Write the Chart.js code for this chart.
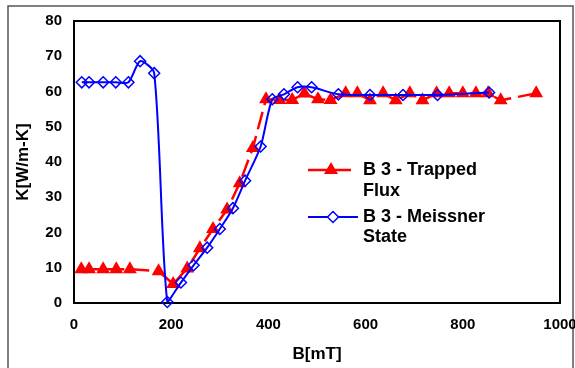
<!DOCTYPE html>
<html>
<head>
<meta charset="utf-8">
<script src="https://cdn.jsdelivr.net/npm/chart.js@4.4.1/dist/chart.umd.min.js"></script>
<style>
  html, body { margin: 0; padding: 0; background: #fff; }
  #wrap { width: 575px; height: 368px; }
</style>
</head>
<body>
<div id="wrap"><canvas id="chart" width="575" height="368"></canvas></div>
<script>
// values
const trappedB = [15, 31, 60, 87, 115, 174, 204, 233, 259, 286, 315, 341, 368, 395, 423, 449, 474, 502, 528, 559, 583, 609, 636, 662, 691, 717, 746, 772, 800, 827, 852, 878, 951];
const trappedK = [9.6, 9.6, 9.6, 9.6, 9.6, 9, 5.4, 9.8, 15.5, 21, 26.5, 34, 44, 57.8, 57.6, 57.6, 59.4, 57.8, 57.6, 59.5, 59.5, 57.5, 59.5, 57.5, 59.5, 57.5, 59.5, 59.5, 59.5, 59.5, 59.5, 57.5, 59.5];

const meissnerB = [16, 31, 60, 86, 112, 136, 165, 192, 220, 246, 274, 300, 327, 352, 384, 408, 432, 460, 489, 544, 609, 677, 748, 854];
const meissnerK = [62.6, 62.6, 62.6, 62.6, 62.6, 68.6, 65.2, 0.3, 5.8, 10.7, 15.7, 21, 26.9, 34.7, 44.4, 57.8, 59.2, 61.2, 61.2, 59.2, 59, 59, 59, 59.7];

const xTicks = [0, 200, 400, 600, 800, 1000];
const yTicks = [0, 10, 20, 30, 40, 50, 60, 70, 80];

const seriesNames = [['B 3 - Trapped', 'Flux'], ['B 3 - Meissner', 'State']];

const FONT = '"Liberation Sans", Arial, sans-serif';
Chart.defaults.font.family = FONT;
Chart.defaults.color = '#000';

function toPoints(xs, ys) {
    return xs.map((x, i) => ({ x: x, y: ys[i] }));
}

// outer box and plot frame
const framePlugin = {
    id: 'frame',
    beforeDraw(chart) {
        const ctx = chart.ctx;
        ctx.save();
        ctx.fillStyle = '#fff';
        ctx.fillRect(0, 0, chart.width, chart.height);
        ctx.strokeStyle = '#555';
        ctx.lineWidth = 1.5;
        ctx.strokeRect(8, 6, 565, 400);
        ctx.restore();
    },
    beforeDatasetsDraw(chart) {
        const a = chart.chartArea;
        const ctx = chart.ctx;
        ctx.save();
        ctx.strokeStyle = '#000';
        ctx.lineWidth = 2;
        ctx.strokeRect(a.left, a.top, a.right - a.left, a.bottom - a.top);
        ctx.restore();
    }
};

// legend box inside the plot
const legendPlugin = {
    id: 'insideLegend',
    afterDraw(chart) {
        const ctx = chart.ctx;
        ctx.save();
        // trapped flux sample
        ctx.strokeStyle = '#ff0000';
        ctx.lineWidth = 2.5;
        ctx.beginPath();
        ctx.moveTo(308, 170);
        ctx.lineTo(351, 170);
        ctx.stroke();
        ctx.fillStyle = '#ff0000';
        ctx.beginPath();
        ctx.moveTo(331, 162);
        ctx.lineTo(338, 174);
        ctx.lineTo(324, 174);
        ctx.closePath();
        ctx.fill();
        // meissner sample
        ctx.strokeStyle = '#0000ff';
        ctx.lineWidth = 2;
        ctx.beginPath();
        ctx.moveTo(308, 217);
        ctx.lineTo(358, 217);
        ctx.stroke();
        ctx.fillStyle = '#fff';
        ctx.lineWidth = 1.5;
        ctx.beginPath();
        ctx.moveTo(333, 211.5);
        ctx.lineTo(338.5, 217);
        ctx.lineTo(333, 222.5);
        ctx.lineTo(327.5, 217);
        ctx.closePath();
        ctx.fill();
        ctx.stroke();
        // texts
        ctx.fillStyle = '#000';
        ctx.font = 'bold 18px ' + FONT;
        ctx.textBaseline = 'middle';
        ctx.fillText(seriesNames[0][0], 363, 170);
        ctx.fillText(seriesNames[0][1], 363, 191);
        ctx.fillText(seriesNames[1][0], 363, 217);
        ctx.fillText(seriesNames[1][1], 363, 237);
        ctx.restore();
    }
};

const ctx = document.getElementById('chart').getContext('2d');
new Chart(ctx, {
    type: 'line',
    data: {
        datasets: [{
            label: seriesNames[0].join(' '),
            data: toPoints(trappedB, trappedK),
            borderColor: '#ff0000',
            backgroundColor: '#ff0000',
            borderWidth: 2.5,
            borderDash: [18, 7],
            tension: 0,
            pointStyle: 'triangle',
            pointRadius: 8,
            pointBorderWidth: 0,
            pointBackgroundColor: '#ff0000',
            pointBorderColor: '#ff0000',
            clip: false,
            order: 1
        }, {
            label: seriesNames[1].join(' '),
            data: toPoints(meissnerB, meissnerK),
            borderColor: '#0000ff',
            backgroundColor: 'rgba(0,0,0,0)',
            borderWidth: 2,
            tension: 0.25,
            pointStyle: 'rectRot',
            pointRadius: 5.5,
            pointBorderWidth: 1.5,
            pointBackgroundColor: 'rgba(0,0,0,0)',
            pointBorderColor: '#0000ff',
            clip: false,
            order: 0
        }]
    },
    options: {
        responsive: false,
        animation: false,
        devicePixelRatio: 1,
        layout: { padding: { top: 20, right: 15, left: 0, bottom: 0 } },
        plugins: {
            legend: { display: false },
            tooltip: { enabled: false }
        },
        scales: {
            x: {
                type: 'linear',
                min: 0,
                max: 1000,
                afterBuildTicks(scale) { scale.ticks = xTicks.map(v => ({ value: v })); },
                afterFit(scale) { scale.height = 65; scale.paddingRight = 0; },
                ticks: { padding: 13, font: { size: 15, weight: 'bold' }, color: '#000', callback: v => String(v) },
                grid: { display: false, drawTicks: false },
                border: { display: false },
                title: { display: true, text: 'B[mT]', font: { size: 17, weight: 'bold' }, color: '#000', padding: { top: 0, bottom: 3 } }
            },
            y: {
                min: 0,
                max: 80,
                afterBuildTicks(scale) { scale.ticks = yTicks.map(v => ({ value: v })); },
                afterFit(scale) { scale.width = 74; },
                ticks: { padding: 12, font: { size: 15, weight: 'bold' }, color: '#000', callback: v => String(v) },
                grid: { display: false, drawTicks: false },
                border: { display: false },
                title: { display: true, text: 'K[W/m-K]', font: { size: 17, weight: 'bold' }, color: '#000', padding: { top: 13, bottom: 0 } }
            }
        }
    },
    plugins: [framePlugin, legendPlugin]
});
</script>
</body>
</html>
